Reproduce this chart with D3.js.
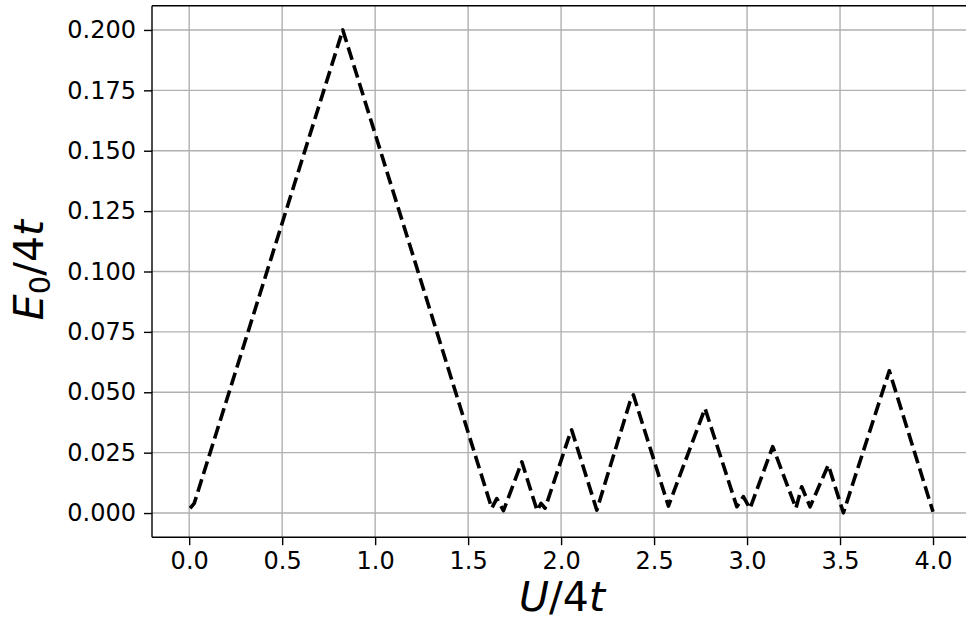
<!DOCTYPE html>
<html><head><meta charset="utf-8">
<script src="https://cdn.jsdelivr.net/npm/d3@7"></script>
<style>html,body{margin:0;padding:0;background:#fff;overflow:hidden}</style>
</head><body>
<svg id="c" width="966" height="622"></svg>
<script>
const uValues = [0.005, 0.027, 0.826, 1.627, 1.654, 1.69, 1.789, 1.871, 1.892, 1.914, 2.04, 2.057, 2.192, 2.371, 2.389, 2.577, 2.774, 2.945, 2.98, 3.016, 3.138, 3.263, 3.294, 3.339, 3.437, 3.518, 3.765, 4.0];
const eValues = [0.002, 0.004, 0.2, 0.002, 0.006, 0.001, 0.0212, 0.001, 0.004, 0.002, 0.031, 0.0344, 0.0012, 0.0462, 0.0489, 0.0029, 0.0433, 0.0026, 0.0068, 0.0019, 0.0275, 0.002, 0.0109, 0.0026, 0.0199, 0.0001, 0.0589, 0.0005];
const xTicks = [0, 0.5, 1, 1.5, 2, 2.5, 3, 3.5, 4];
const yTicks = [0, 0.025, 0.05, 0.075, 0.1, 0.125, 0.15, 0.175, 0.2];

const svg = d3.select("#c");
const L = 152, T = 5.8, R = 970.2, B = 537.2;
const x = d3.scaleLinear().domain([-0.2, 4.2]).range([L, R]);
const y = d3.scaleLinear().domain([-0.01, 0.21]).range([B, T]);

const g = svg.append("g");
// grid
g.selectAll(".gx").data(xTicks).enter().append("line")
  .attr("x1", d => x(d)).attr("x2", d => x(d)).attr("y1", T).attr("y2", B)
  .attr("stroke", "#b0b0b0").attr("stroke-width", 1.4);
g.selectAll(".gy").data(yTicks).enter().append("line")
  .attr("y1", d => y(d)).attr("y2", d => y(d)).attr("x1", L).attr("x2", R)
  .attr("stroke", "#b0b0b0").attr("stroke-width", 1.4);

// line
const data = uValues.map((u, i) => [u, eValues[i]]);
g.append("path").datum(data)
  .attr("d", d3.line().x(d => x(d[0])).y(d => y(d[1])))
  .attr("fill", "none").attr("stroke", "#000").attr("stroke-width", 3.6)
  .attr("stroke-dasharray", "13,5.6").attr("stroke-linejoin", "round");

// axes
const xAxis = d3.axisBottom(x).tickValues(xTicks).tickFormat(d3.format(".1f")).tickSize(8).tickPadding(7);
const yAxis = d3.axisLeft(y).tickValues(yTicks).tickFormat(d3.format(".3f")).tickSize(8).tickPadding(8);
const ax = svg.append("g").attr("transform", `translate(0,${B})`).call(xAxis);
const ay = svg.append("g").attr("transform", `translate(${L},0)`).call(yAxis);
[ax, ay].forEach(a => {
  a.select(".domain").remove();
  a.selectAll("line").attr("stroke", "#000").attr("stroke-width", 1.4);
  a.selectAll("text").attr("font-family", "DejaVu Sans").attr("font-size", 24).attr("fill", "#000");
});
// spines
svg.append("line").attr("x1", L).attr("x2", L).attr("y1", T).attr("y2", B).attr("stroke", "#000").attr("stroke-width", 1.4);
svg.append("line").attr("x1", L).attr("x2", R).attr("y1", B).attr("y2", B).attr("stroke", "#000").attr("stroke-width", 1.4);
svg.append("line").attr("x1", L).attr("x2", R).attr("y1", T).attr("y2", T).attr("stroke", "#000").attr("stroke-width", 1.4);
svg.append("line").attr("x1", R).attr("x2", R).attr("y1", T).attr("y2", B).attr("stroke", "#000").attr("stroke-width", 1.4);

// labels
const xl = svg.append("text").attr("x", 562).attr("y", 611).attr("text-anchor", "middle")
  .attr("font-family", "DejaVu Sans").attr("font-style", "italic").attr("font-size", 41).attr("fill", "#000");
xl.append("tspan").text("U");
xl.append("tspan").attr("font-style", "normal").text("/4");
xl.append("tspan").text("t");

const yl = svg.append("text").attr("transform", "translate(43,270) rotate(-90)").attr("text-anchor", "middle")
  .attr("font-family", "DejaVu Sans").attr("font-style", "italic").attr("font-size", 41).attr("fill", "#000");
yl.append("tspan").text("E");
yl.append("tspan").attr("font-size", 29).attr("dy", 7).attr("font-style", "normal").text("0");
yl.append("tspan").attr("dy", -7).attr("font-style", "normal").text("/4");
yl.append("tspan").text("t");
</script>
</body></html>
